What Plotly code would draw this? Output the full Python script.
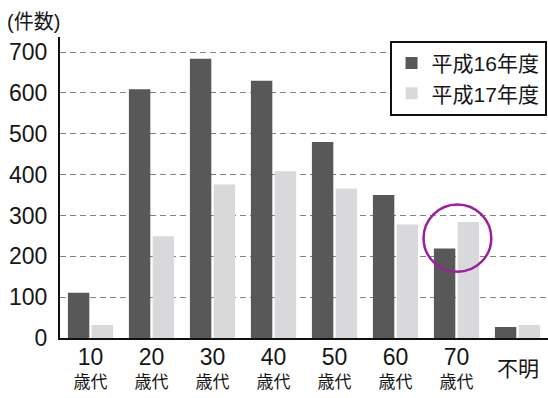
import plotly.graph_objects as go

categories = ["10代", "20代", "30代", "40代", "50代", "60代", "70代", "不明"]
tick_labels = [
    "<span style='font-size:23px'>10</span><br>歳代",
    "<span style='font-size:23px'>20</span><br>歳代",
    "<span style='font-size:23px'>30</span><br>歳代",
    "<span style='font-size:23px'>40</span><br>歳代",
    "<span style='font-size:23px'>50</span><br>歳代",
    "<span style='font-size:23px'>60</span><br>歳代",
    "<span style='font-size:23px'>70</span><br>歳代",
    "",
]
unknown_label = "不明"
h16_values = [111, 609, 684, 630, 480, 350, 219, 27]
h17_values = [32, 249, 376, 408, 366, 278, 284, 32]
series_names = ["平成16年度", "平成17年度"]
y_ticks = [0, 100, 200, 300, 400, 500, 600, 700]

FONT = "Liberation Sans, Arial, Noto Sans CJK JP, sans-serif"
TXT = "#161616"

fig = go.Figure()
fig.add_trace(go.Bar(x=categories, y=h16_values, name=series_names[0],
                     marker=dict(color="#585858", line=dict(width=0))))
fig.add_trace(go.Bar(x=categories, y=h17_values, name=series_names[1],
                     marker=dict(color="#d9d9dc", line=dict(width=0))))

# highlight circle around the 70代 group
fig.add_shape(type="circle", xref="x", yref="y",
              x0=5.46, x1=6.57, y0=162, y1=327,
              line=dict(color="#9c1f9c", width=2.5), layer="above")

fig.add_annotation(text="(件数)", xref="paper", yref="paper",
                   x=-0.113, y=1.005, xanchor="left", yanchor="bottom",
                   showarrow=False, font=dict(size=20, color=TXT, family=FONT))

fig.add_annotation(text=unknown_label, xref="x", yref="paper",
                   x=categories[-1], y=-0.1, xanchor="center", yanchor="middle",
                   showarrow=False, font=dict(size=21, color=TXT, family=FONT))

fig.update_layout(
    width=548, height=398,
    margin=dict(l=60, r=0, t=37, b=60),
    paper_bgcolor="white", plot_bgcolor="white",
    barmode="group", bargap=0.22, bargroupgap=0.1,
    font=dict(family=FONT, color=TXT),
    showlegend=True,
    legend=dict(x=0.997, y=0.987, xanchor="right", yanchor="top",
                bgcolor="white", bordercolor="#111", borderwidth=2,
                font=dict(size=21, color=TXT, family=FONT),
                tracegroupgap=4),
    xaxis=dict(
        type="category", tickmode="array", tickvals=categories, ticktext=tick_labels,
        range=[-0.5, 7.5], showline=True, linecolor="#111", linewidth=2,
        ticks="", tickfont=dict(size=17, color=TXT), showgrid=False,
        ticklabelstandoff=5,
    ),
    yaxis=dict(
        range=[0, 737], tickmode="array", tickvals=y_ticks,
        showline=True, linecolor="#111", linewidth=2, ticks="",
        tickfont=dict(size=23, color=TXT), ticklabelstandoff=6,
        showgrid=True, gridcolor="#808080", gridwidth=1, griddash="6px,4px",
        zeroline=False,
    ),
)

fig.write_html("out.html")
